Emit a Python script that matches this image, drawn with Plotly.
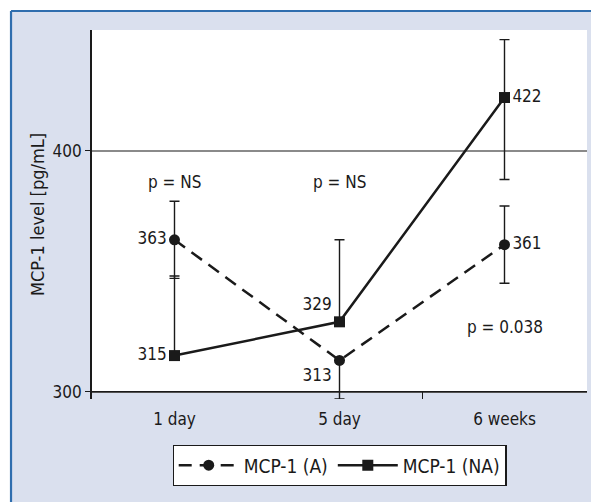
import plotly.graph_objects as go

categories = ["1 day", "5 day", "6 weeks"]
a_values = [363, 313, 361]
a_err_plus = [16, 0, 16]
a_err_minus = [16, 16, 16]
a_text_pos = ["middle left", "bottom left", "middle right"]
na_values = [315, 329, 422]
na_err_plus = [33, 34, 24]
na_err_minus = [0, 0, 34]
na_text_pos = ["middle left", "top left", "middle right"]
p_labels = ["p = NS", "p = NS", "p = 0.038"]
p_label_y = [387, 387, 327]
y_ticks = [300, 400]
y_min, y_max = 297, 450

x_idx = list(range(len(categories)))

FONT = "DejaVu Sans Condensed, Liberation Sans Narrow, Liberation Sans, sans-serif"
INK = "#1a1a1a"
PANEL = "#dae0ee"
BLUE = "#2f6eae"
FS = 17

fig = go.Figure()

fig.add_trace(go.Scatter(
    x=x_idx, y=a_values, name="MCP-1 (A)",
    mode="lines+markers+text",
    text=[str(v) for v in a_values], textposition=a_text_pos,
    textfont=dict(size=FS, color=INK, family=FONT),
    line=dict(color=INK, width=2.5, dash="13px,8px"),
    marker=dict(symbol="circle", size=11, color=INK),
    error_y=dict(type="data", symmetric=False, array=a_err_plus, arrayminus=a_err_minus,
                 color=INK, thickness=1.4, width=5),
    cliponaxis=False,
))

fig.add_trace(go.Scatter(
    x=x_idx, y=na_values, name="MCP-1 (NA)",
    mode="lines+markers+text",
    text=[str(v) for v in na_values], textposition=na_text_pos,
    textfont=dict(size=FS, color=INK, family=FONT),
    line=dict(color=INK, width=2.5),
    marker=dict(symbol="square", size=11, color=INK),
    error_y=dict(type="data", symmetric=False, array=na_err_plus, arrayminus=na_err_minus,
                 color=INK, thickness=1.4, width=5),
    cliponaxis=False,
))

for xi, lab, yy in zip(x_idx, p_labels, p_label_y):
    fig.add_annotation(x=xi, y=yy, text=lab, showarrow=False,
                       font=dict(size=FS, color=INK, family=FONT))

# outer white margin strips and blue frame lines
fig.add_shape(type="rect", xref="paper", yref="paper", x0=-0.4, x1=1.1, y0=1.0515, y1=1.3,
              fillcolor="white", line=dict(width=0), layer="below")
fig.add_shape(type="rect", xref="paper", yref="paper", x0=-0.4, x1=-0.1636, y0=-0.5, y1=1.3,
              fillcolor="white", line=dict(width=0), layer="below")
fig.add_shape(type="line", xref="paper", yref="paper", x0=-0.1636, x1=1.1, y0=1.0515, y1=1.0515,
              line=dict(color=BLUE, width=2.2), layer="below")
fig.add_shape(type="line", xref="paper", yref="paper", x0=-0.1636, x1=-0.1636, y0=-0.5, y1=1.0515,
              line=dict(color=BLUE, width=2.2), layer="below")
# panel strip beneath the x axis line (plot extends slightly below 300 so the error bar shows)
fig.add_shape(type="rect", xref="paper", yref="y", x0=0, x1=1, y0=y_min, y1=y_ticks[0],
              fillcolor=PANEL, line=dict(width=0), layer="below")
# x axis line at 300
fig.add_shape(type="line", xref="paper", yref="y", x0=0, x1=1, y0=y_ticks[0], y1=y_ticks[0],
              line=dict(color=INK, width=1.6), layer="above")

fig.update_layout(
    width=591, height=502,
    margin=dict(l=92, r=4, t=30, b=103),
    paper_bgcolor=PANEL,
    plot_bgcolor="white",
    font=dict(family=FONT, size=FS, color=INK),
    showlegend=True,
    legend=dict(orientation="h", x=0.5, xanchor="center", y=-0.125, yanchor="top",
                bgcolor="white", bordercolor=INK, borderwidth=1.2, itemwidth=60,
                font=dict(size=19, family=FONT, color=INK)),
    xaxis=dict(range=[-0.5, 2.5], tickvals=x_idx, ticktext=categories,
               ticks="", showline=False, showgrid=False, zeroline=False,
               ticklabelstandoff=8,
               minor=dict(tickvals=[len(categories) - 1.5], ticks="inside", ticklen=7,
                          tickcolor=INK, tickwidth=1.4, showgrid=False),
               tickfont=dict(size=FS, family=FONT, color=INK)),
    yaxis=dict(range=[y_min, y_max], tickvals=y_ticks,
               ticks="outside", ticklen=5, tickcolor=INK, tickwidth=1.4,
               showline=True, linecolor=INK, linewidth=1.6,
               showgrid=True, gridcolor="#8a8a8a", gridwidth=1.6, zeroline=False,
               tickfont=dict(size=FS, family=FONT, color=INK),
               title=dict(text="MCP-1 level [pg/mL]", standoff=3,
                          font=dict(size=18, family=FONT, color=INK))),
)

fig.write_html("out.html", config={"displayModeBar": False},
               post_script="document.body.style.margin='0px';")
